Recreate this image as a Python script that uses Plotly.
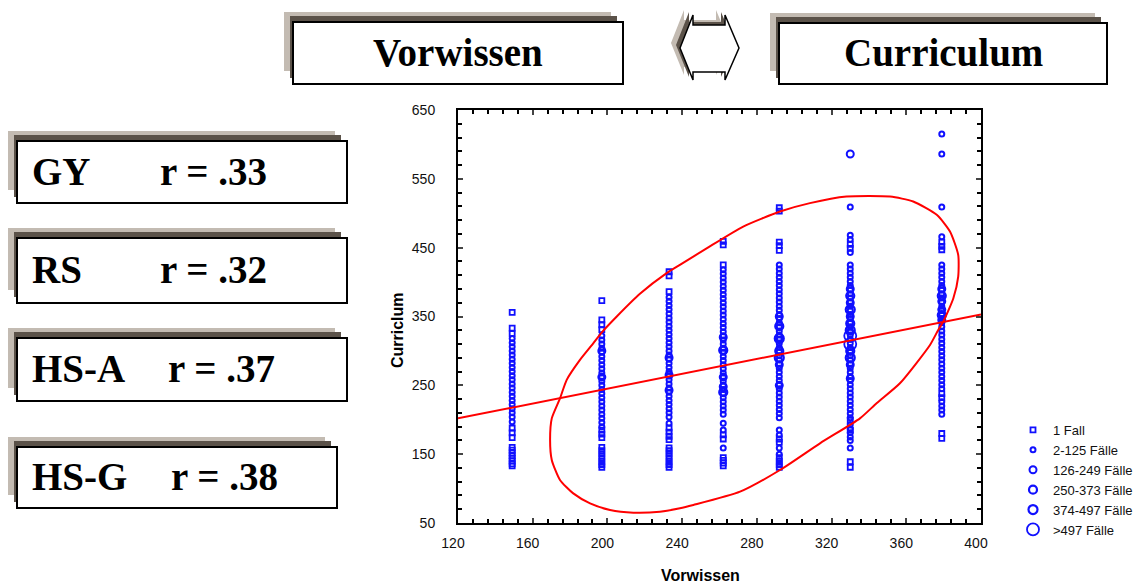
import plotly.graph_objects as go

W, H = 1138, 583
L, R, T, B = 458, 981, 110, 523


def px(x):
    return (x - L) / (R - L)


def py(y):
    return (B - y) / (B - T)


# ---------------- data ----------------
x_levels = [149, 197, 233, 262, 292, 330, 379]

y_1fall = [
    [356, 333, 325, 188, 181, 174, 160, 156, 152, 148, 144, 140, 136, 133],
    [373, 345, 338, 331, 185, 179, 174, 160, 155, 150, 145, 140, 135, 131],
    [415, 409, 386, 188, 182, 176, 171, 159, 155, 150, 145, 140, 135, 131],
    [459, 454, 425, 178, 172, 145, 141, 137, 133],
    [508, 503, 458, 453, 446, 172, 167, 145, 140, 135, 131],
    [455, 449, 199, 185, 139, 131],
    [458, 452, 447, 238, 232, 180, 173],
]
y_2_125 = [
    [318, 312, 306, 300, 294, 288, 282, 276, 270, 264, 258, 252, 246, 240,
     234, 228, 222, 216, 210, 204, 197],
    [322, 316, 310, 304, 298, 292, 286, 280, 274, 268, 262, 256, 250, 244,
     238, 232, 226, 220, 214, 208, 202, 196, 190],
    [378, 372, 366, 360, 354, 348, 342, 336, 330, 324, 318, 312, 306, 300,
     294, 288, 282, 276, 270, 264, 258, 252, 246, 240, 234, 228, 222, 216,
     210, 204, 195],
    [418, 412, 406, 400, 394, 388, 382, 376, 370, 364, 358, 352, 346, 340,
     334, 328, 322, 316, 310, 304, 298, 292, 286, 280, 274, 268, 262, 256,
     250, 244, 238, 232, 226, 220, 214, 208, 195, 185, 159],
    [425, 419, 413, 407, 401, 395, 389, 383, 377, 371, 365, 359, 353, 347,
     341, 335, 329, 323, 317, 311, 305, 299, 293, 287, 281, 275, 269, 263,
     257, 251, 245, 239, 233, 227, 221, 215, 209, 203, 185, 178, 159, 150],
    [509, 468, 462, 443, 425, 419, 413, 407, 401, 395, 389, 383, 377, 371,
     365, 359, 353, 347, 341, 335, 329, 323, 317, 311, 305, 299, 293, 287,
     281, 275, 269, 263, 257, 251, 245, 239, 233, 227, 221, 215, 209, 203,
     193, 187, 181, 175, 170, 159],
    [615, 586, 509, 466, 425, 419, 413, 407, 401, 395, 389, 383, 377, 371,
     365, 359, 353, 347, 341, 335, 329, 323, 317, 311, 305, 299, 293, 287,
     281, 275, 269, 263, 257, 251, 245, 226, 220, 214, 208],
]
y_126_249 = [
    [],
    [300, 262],
    [290, 265, 243],
    [320, 301, 262, 248],
    [350, 320, 280, 250],
    [586, 390, 370, 350, 280, 260],
    [390, 372, 360, 345],
]
y_250_373 = [
    [],
    [],
    [],
    [301, 240],
    [336, 300],
    [380, 340, 300],
    [380, 352],
]
y_374_497 = [
    [],
    [],
    [],
    [],
    [318, 290],
    [360, 330, 290],
    [],
]
y_gt497 = [
    [],
    [],
    [],
    [],
    [],
    [322, 310],
    [],
]

legend_names = ["1 Fall", "2-125 Fälle", "126-249 Fälle", "250-373 Fälle",
                "374-497 Fälle", ">497 Fälle"]

# regression line end points
reg_x = [120, 400]
reg_y = [202, 353]

# confidence ellipse outline
ell_x = [169.3, 170.2, 174.6, 178.2, 185.3, 192.4, 197.0, 205.0, 217.4, 231.7,
         238.8, 253.1, 272.7, 292.4, 308.4, 328.0, 351.3, 363.7, 376.3, 383.4,
         387.8, 387.8, 385.2, 379.8, 377.1, 372.7, 356.6, 344.1, 335.2, 313.8,
         292.4, 271.0, 246.0, 238.8, 228.1, 213.9, 201.4, 190.7, 181.7, 174.6,
         170.2, 169.3]
ell_y = [170.6, 202.0, 231.0, 258.0, 287.0, 311.0, 327.0, 350.0, 383.0, 413.0,
         425.0, 449.0, 480.7, 502.5, 514.7, 524.3, 524.3, 517.0, 497.7, 473.4,
         439.5, 408.0, 376.6, 342.6, 330.5, 308.7, 253.0, 224.0, 202.0, 165.8,
         127.0, 95.5, 76.2, 71.4, 66.4, 65.0, 68.9, 78.6, 93.0, 112.5,
         141.6, 170.6]

x_ticks = [120, 160, 200, 240, 280, 320, 360, 400]
y_ticks = [50, 150, 250, 350, 450, 550, 650]

groups = ["GY", "RS", "HS-A", "HS-G"]
r_values = ["r = .33", "r = .32", "r = .37", "r = .38"]

# ---------------- figure ----------------
BLUE = "#1010ff"
styles = [
    dict(symbol="square-open", size=5, line=dict(width=1.8, color=BLUE)),
    dict(symbol="circle-open", size=5, line=dict(width=2, color=BLUE)),
    dict(symbol="circle-open", size=7, line=dict(width=2, color=BLUE)),
    dict(symbol="circle-open", size=8, line=dict(width=2.2, color=BLUE)),
    dict(symbol="circle-open", size=9, line=dict(width=2.2, color=BLUE)),
    dict(symbol="circle-open", size=12, line=dict(width=1.8, color=BLUE)),
]
series = [y_1fall, y_2_125, y_126_249, y_250_373, y_374_497, y_gt497]

fig = go.Figure()
for name, ser, st in zip(legend_names, series, styles):
    xs, ys = [], []
    for xv, col in zip(x_levels, ser):
        xs += [xv] * len(col)
        ys += col
    fig.add_trace(go.Scatter(x=xs, y=ys, mode="markers", name=name,
                             marker=dict(color=BLUE, **st), showlegend=True))

fig.add_trace(go.Scatter(x=reg_x, y=reg_y, mode="lines", showlegend=False,
                         line=dict(color="#ff0000", width=2)))
fig.add_trace(go.Scatter(x=ell_x, y=ell_y, mode="lines", showlegend=False,
                         line=dict(color="#ff0000", width=2, shape="spline",
                                   smoothing=0.6)))

TICKFONT = dict(family="Liberation Sans Narrow, Arial Narrow, Liberation Sans",
                size=14, color="#111111")

fig.update_xaxes(range=[120, 400], tickvals=x_ticks, ticks="inside", ticklen=5,
                 tickwidth=1.5, showline=True, linewidth=2, linecolor="black",
                 mirror="allticks", showgrid=False, zeroline=False,
                 tickfont=TICKFONT, ticklabelstandoff=6, ticklabelshift=-5,
                 minor=dict(dtick=8, tick0=120, ticks="inside", ticklen=4,
                            tickwidth=1.5, tickcolor="black", showgrid=False))
fig.update_yaxes(range=[50, 650], tickvals=y_ticks, ticks="inside", ticklen=5,
                 tickwidth=1.5, showline=True, linewidth=2, linecolor="black",
                 mirror="allticks", showgrid=False, zeroline=False,
                 tickfont=TICKFONT, ticklabelstandoff=18,
                 minor=dict(dtick=20, tick0=50, ticks="inside", ticklen=4,
                            tickwidth=1.5, tickcolor="black", showgrid=False))

shapes = []
annotations = []
LIGHT = "#c3bbb2"
DARK = "#5b5249"
SERIF = "Liberation Serif, Times New Roman, serif"


def shadow_box(x0, y0, x1, y1):
    # light shadow, dark shadow, white framed box
    shapes.append(dict(type="rect", xref="paper", yref="paper",
                       x0=px(x0 - 9), x1=px(x1 - 12), y0=py(y0 - 10), y1=py(y1 - 13),
                       fillcolor=LIGHT, line=dict(width=0), layer="above"))
    shapes.append(dict(type="rect", xref="paper", yref="paper",
                       x0=px(x0 - 3), x1=px(x1 - 6), y0=py(y0 - 6), y1=py(y1 - 6),
                       fillcolor=DARK, line=dict(width=0), layer="above"))
    shapes.append(dict(type="rect", xref="paper", yref="paper",
                       x0=px(x0), x1=px(x1), y0=py(y0), y1=py(y1),
                       fillcolor="white", line=dict(width=2, color="black"),
                       layer="above"))


# top boxes
shadow_box(293, 22, 623, 84)
shadow_box(779, 23, 1107, 84)
annotations.append(dict(x=px(458), y=py(53), xref="paper", yref="paper",
                        text="<b>Vorwissen</b>", showarrow=False,
                        xanchor="center", yanchor="middle",
                        font=dict(family=SERIF, size=39, color="black")))
annotations.append(dict(x=px(943), y=py(53), xref="paper", yref="paper",
                        text="<b>Curriculum</b>", showarrow=False,
                        xanchor="center", yanchor="middle",
                        font=dict(family=SERIF, size=39, color="black")))

# left boxes
box_tops = [141, 238, 338, 447]
box_bottoms = [203, 303, 401, 508]
box_rights = [347, 347, 347, 337]
r_left = [158, 158, 166, 169]
for g, rv, y0, y1, xr, rl in zip(groups, r_values, box_tops, box_bottoms,
                                 box_rights, r_left):
    shadow_box(17, y0, xr, y1)
    yc = (y0 + y1) / 2 - 1
    annotations.append(dict(x=px(30), y=py(yc), xref="paper", yref="paper",
                            text="<b>%s</b>" % g, showarrow=False,
                            xanchor="left", yanchor="middle",
                            font=dict(family=SERIF, size=39, color="black")))
    annotations.append(dict(x=px(rl), y=py(yc), xref="paper", yref="paper",
                            text="<b>%s</b>" % rv, showarrow=False,
                            xanchor="left", yanchor="middle",
                            font=dict(family=SERIF, size=39, color="black")))


# double arrow
def arrow_path(dx, dy):
    pts = [(680, 48), (693, 15), (693, 25), (725, 25), (725, 15), (739, 48),
           (725, 80), (725, 72), (693, 72), (693, 80)]
    s = "M " + " L ".join("%f,%f" % (px(x + dx), py(y + dy)) for x, y in pts) + " Z"
    return s


shapes.append(dict(type="path", xref="paper", yref="paper", path=arrow_path(-9, -5),
                   fillcolor=LIGHT, line=dict(width=0), layer="above"))
shapes.append(dict(type="path", xref="paper", yref="paper", path=arrow_path(-4, -3),
                   fillcolor=DARK, line=dict(width=0), layer="above"))
shapes.append(dict(type="path", xref="paper", yref="paper", path=arrow_path(0, 0),
                   fillcolor="white", line=dict(width=1.5, color="black"),
                   layer="above"))

# axis titles
annotations.append(dict(x=px(397), y=py(330), xref="paper", yref="paper",
                        text="<b>Curriclum</b>", showarrow=False, textangle=-90,
                        xanchor="center", yanchor="middle",
                        font=dict(family="Liberation Sans, Arial", size=16,
                                  color="black")))
annotations.append(dict(x=px(700), y=py(575), xref="paper", yref="paper",
                        text="<b>Vorwissen</b>", showarrow=False,
                        xanchor="center", yanchor="middle",
                        font=dict(family="Liberation Sans, Arial", size=16,
                                  color="black")))

fig.update_layout(
    width=W, height=H,
    margin=dict(l=L, r=W - R, t=T, b=H - B, pad=0, autoexpand=False),
    paper_bgcolor="white", plot_bgcolor="white",
    shapes=shapes, annotations=annotations,
    legend=dict(x=px(1013), y=py(415), xanchor="left", yanchor="top",
                font=dict(family="Liberation Sans Narrow, Arial Narrow, Liberation Sans",
                          size=13, color="#111111"),
                bgcolor="rgba(0,0,0,0)", tracegroupgap=0, itemwidth=30),
)

fig.write_html("out.html")
